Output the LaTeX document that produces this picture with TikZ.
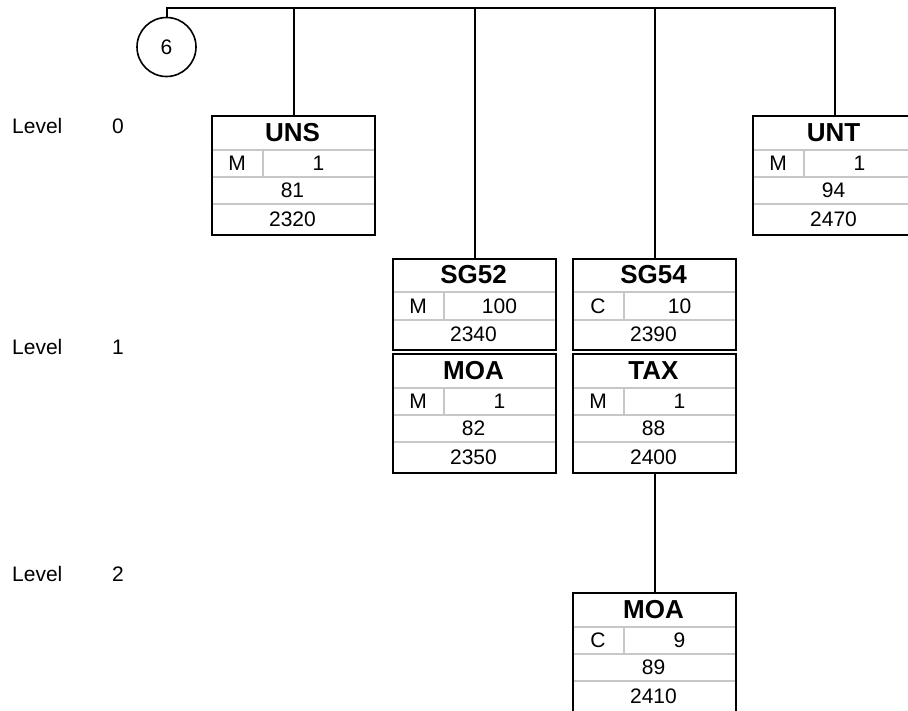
\documentclass[tikz,border=0pt]{standalone}
\usepackage{fontspec}
\setmainfont{Liberation Sans}
\usetikzlibrary{calc,shapes.geometric}
\tikzset{>=latex}
\tikzstyle{segment}=[rectangle,draw=black,line width=2pt,minimum width=163pt,inner sep=0pt,anchor=north west]
\tikzstyle{row}=[draw=black!22,line width=1.5pt]
\tikzstyle{tag}=[font=\fontsize{26}{30}\selectfont\bfseries,inner sep=0pt]
\tikzstyle{cell}=[font=\fontsize{21}{25}\selectfont,inner sep=0pt]
\tikzstyle{link}=[line width=2pt]

% segment box: name, top left, tag, status, repeats, number, position
\newcommand{\segbox}[7]{%
	\begin{scope}[shift={(#2)}]
		\draw[row] (0,35) -- (163,35) (0,62) -- (163,62) (0,89) -- (163,89) (52,35) -- (52,62);
		\node[segment,minimum height=119pt] (#1) at (0,0) {};
		\node[tag] at (81.5,17.5) {#3};
		\node[cell] at (26,48.5) {#4};
		\node[cell] at (107.5,48.5) {#5};
		\node[cell] at (81.5,75.5) {#6};
		\node[cell] at (81.5,104) {#7};
	\end{scope}}

% group box: name, top left, tag, status, repeats, position
\newcommand{\grpbox}[6]{%
	\begin{scope}[shift={(#2)}]
		\draw[row] (0,34) -- (163,34) (0,62) -- (163,62) (52,34) -- (52,62);
		\node[segment,minimum height=91pt] (#1) at (0,0) {};
		\node[tag] at (81.5,17) {#3};
		\node[cell] at (26,48) {#4};
		\node[cell] at (107.5,48) {#5};
		\node[cell] at (81.5,76.5) {#6};
	\end{scope}}

\begin{document}
\begin{tikzpicture}[x=1pt,y=-1pt]
	\useasboundingbox (0,0) rectangle (908,710);
	
	\node[circle,draw,line width=1.6pt,cell,minimum size=59pt] (grp6) at (166.5,47) {6};
	\coordinate (top) at (166.5,8);
	
	\segbox{uns}{211,115}{UNS}{M}{1}{81}{2320}
	\segbox{unt}{752,115}{UNT}{M}{1}{94}{2470}
	\grpbox{sg52}{392,258}{SG52}{M}{100}{2340}
	\segbox{moa1}{392,353}{MOA}{M}{1}{82}{2350}
	\grpbox{sg54}{572,258}{SG54}{C}{10}{2390}
	\segbox{tax}{572,353}{TAX}{M}{1}{88}{2400}
	\segbox{moa2}{572,592}{MOA}{C}{9}{89}{2410}
	
	\foreach \lv/\y in {0/126,1/347,2/574} {
		\node[cell,anchor=west] (level\lv) at (12,\y) {Level};
		\node[cell] (levelnum\lv) at (118,\y) {\lv};
	}
	
	\draw[link] (grp6.north) -- (top) -| (unt.north);
	\draw[link] (uns.north) -- (uns.north |- top);
	\draw[link] (sg52.north) -- (sg52.north |- top);
	\draw[link] (sg54.north) -- (sg54.north |- top);
	\draw[link] (tax.south) -- (moa2.north);
\end{tikzpicture}
\end{document}
